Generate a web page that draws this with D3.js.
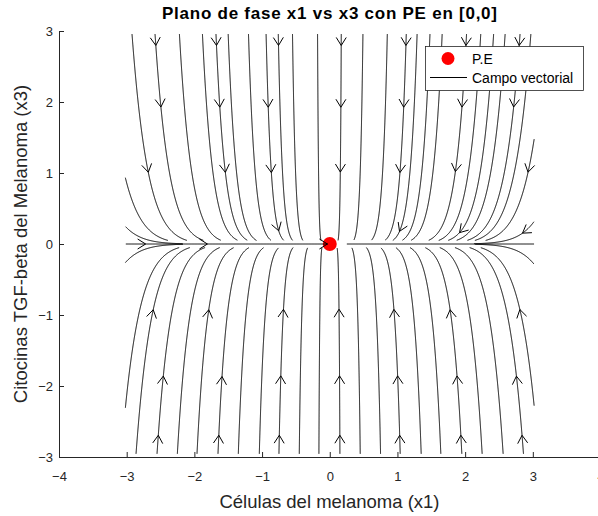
<!DOCTYPE html>
<html>
<head>
<meta charset="utf-8">
<script src="https://cdn.jsdelivr.net/npm/d3@7"></script>
<style>
  body { margin: 0; background: #fff; }
  text { font-family: "Liberation Sans", Arial, Helvetica, sans-serif; }
</style>
</head>
<body>
<div id="chart"></div>
<script>

// equilibrium point (P.E)
var peX = [0];
var peY = [0];

// streamline seeds (data units)
var topSeedY = 2.94;
var topSeedsX = [-2.92, -2.58, -2.22, -1.88, -1.68, -1.50, -1.20, -0.94, -0.76, -0.55, -0.18,
                 0.17, 0.49, 0.85, 1.13, 1.29, 1.48, 1.66, 2.02, 2.23, 2.42, 2.59, 2.81, 2.97];
var bottomSeedY = -2.93;
var bottomSeedsX = [-2.86, -2.55, -2.25, -1.96, -1.65, -1.35, -1.04, -0.75, -0.45, -0.16,
                    0.15, 0.45, 0.75, 1.04, 1.35, 1.64, 1.95, 2.25, 2.56, 2.86];
var sideSeedsX = [-3.0, -3.0, -2.93, -2.93, 3.0, 3.0, 2.91, 2.91];
var sideSeedsY = [0.86, -2.13, 0.17, -0.18, 1.36, -2.1, 0.2, -0.18];
// lines lying on x3 = 0
var axisSeedsX = [-2.8, 2.85];
var axisStopsX = [-0.02, 0.25];

// arrowheads
var arrowX = [-2.58, -1.68, -0.76, 0.17, 1.13, 2.02, 2.80,
              -2.50, -1.63, -0.91, 0.17, 1.09, 1.97, 2.70,
              -2.70, -1.56, -0.86, 0.16, 1.04, 1.90, 2.93,
              -0.76, 1.04, 1.93, 2.84,
              -2.72, -1.81, -0.03,
              -2.65, -1.81, -0.70, 0.13, 0.98, 1.82, 2.84,
              -2.50, -1.72, -0.72, 0.14, 0.99, 1.87, 2.80,
              -2.55, -1.65, -0.75, 0.15, 1.04, 1.96, 2.86];
var arrowY = [2.80, 2.80, 2.80, 2.80, 2.80, 2.80, 2.80,
              1.93, 1.93, 1.93, 1.93, 1.93, 1.93, 1.93,
              1.01, 1.01, 1.01, 1.01, 1.01, 1.01, 1.01,
              0.18, 0.17, 0.15, 0.17,
              0, 0, 0,
              -0.92, -0.92, -0.92, -0.92, -0.92, -0.92, -0.92,
              -1.86, -1.86, -1.86, -1.86, -1.86, -1.86, -1.86,
              -2.69, -2.69, -2.69, -2.69, -2.69, -2.69, -2.69];

var xTicks = [-4, -3, -2, -1, 0, 1, 2, 3, 4];
var yTicks = [-3, -2, -1, 0, 1, 2, 3];

// linearised field around [0,0]: dx1 = -rateX1*x1 , dx3 = -rateX3*x3
var rateX1 = 0.08;
var rateX3 = 1;

var width = 598;
var height = 516;
var axisColor = "#262626";

var svg = d3.select("#chart").append("svg")
  .attr("width", width)
  .attr("height", height);

var x = d3.scaleLinear().domain([-4, 4]).range([59, 600.5]);
var y = d3.scaleLinear().domain([-3, 3]).range([457, 31]);

var kx = x(1) - x(0);
var ky = y(0) - y(1);

function dir(px, py) {
  var X = x.invert(px), Y = y.invert(py);
  var u = -rateX1 * X * kx;
  var v = rateX3 * Y * ky;   // screen y grows downward
  var n = Math.sqrt(u*u + v*v);
  if (n < 1e-9) return null;
  return [u/n, v/n];
}

function inBox(X, Y) {
  return X >= -3.02 && X <= 3.02 && Y >= -2.96 && Y <= 2.96;
}

// integrate one direction of a streamline in pixel space
function trace(x0, y0, sign, stop) {
  var pts = [];
  var p = [x(x0), y(y0)];
  var h = 0.6 * sign;
  for (var i = 0; i < 4000; i++) {
    var d1 = dir(p[0], p[1]);
    if (!d1) break;
    var d2 = dir(p[0] + d1[0]*h/2, p[1] + d1[1]*h/2);
    if (!d2) break;
    var q = [p[0] + d2[0]*h, p[1] + d2[1]*h];
    var X = x.invert(q[0]), Y = y.invert(q[1]);
    if (!inBox(X, Y)) break;
    if (stop && stop(X, Y)) break;
    pts.push(q);
    p = q;
  }
  return pts;
}

function streamline(x0, y0, stop) {
  var back = trace(x0, y0, -1, null).reverse();
  var fwd = trace(x0, y0, 1, stop);
  return back.concat([[x(x0), y(y0)]], fwd);
}

var nearAxis = function(X, Y) { return Math.abs(Y) < 0.05; };

var lines = [];
topSeedsX.forEach(function(s) { lines.push(streamline(s, topSeedY, nearAxis)); });
bottomSeedsX.forEach(function(s) { lines.push(streamline(s, bottomSeedY, nearAxis)); });
sideSeedsX.forEach(function(s, i) {
  var s0 = sideSeedsY[i];
  var stop = Math.abs(s0) < 0.5 ? function(X, Y) { return Math.abs(Y) < 0.004; } : nearAxis;
  lines.push(streamline(s, s0, stop));
});
axisSeedsX.forEach(function(s, i) {
  var xs = axisStopsX[i];
  lines.push(streamline(s, 0, function(X) { return s < 0 ? X > xs : X < xs; }));
});

// equilibrium point under the field
svg.append("g").selectAll("circle")
  .data(peX)
  .enter().append("circle")
    .attr("cx", function(d) { return x(d); })
    .attr("cy", function(d, i) { return y(peY[i]); })
    .attr("r", 7)
    .attr("fill", "#ff0000");

var lineGen = d3.line();

svg.append("g")
  .selectAll("path")
  .data(lines)
  .enter().append("path")
    .attr("d", function(d) { return lineGen(d); })
    .attr("fill", "none")
    .attr("stroke", "#000")
    .attr("stroke-width", 1);

// arrowheads snapped onto the nearest streamline
var arrows = arrowX.map(function(ax, i) {
  var px = x(ax), py = y(arrowY[i]);
  var best = null, bd = 144;
  lines.forEach(function(L) {
    for (var j = 1; j < L.length - 1; j++) {
      var dx = L[j][0] - px, dy = L[j][1] - py;
      var dd = dx*dx + dy*dy;
      if (dd < bd) { bd = dd; best = [L, j]; }
    }
  });
  if (best) {
    var L = best[0], j = best[1];
    var a = L[Math.max(0, j-3)], b = L[Math.min(L.length-1, j+3)];
    var tx = b[0]-a[0], ty = b[1]-a[1], n = Math.sqrt(tx*tx + ty*ty);
    return {p: L[j], t: [tx/n, ty/n]};
  }
  return {p: [px, py], t: dir(px, py) || [1, 0]};
});

var arrowLen = 8, arrowHalf = 5;
svg.append("g")
  .selectAll("path")
  .data(arrows)
  .enter().append("path")
    .attr("d", function(d) {
      var tx = d.t[0], ty = d.t[1];
      var bx = d.p[0] - tx*arrowLen, by = d.p[1] - ty*arrowLen;
      var w1 = [bx - ty*arrowHalf, by + tx*arrowHalf];
      var w2 = [bx + ty*arrowHalf, by - tx*arrowHalf];
      return "M" + w1 + "L" + d.p + "L" + w2;
    })
    .attr("fill", "none")
    .attr("stroke", "#000")
    .attr("stroke-width", 1);

// axes (box off)
var xAxis = svg.append("g")
  .attr("transform", "translate(0," + y(-3) + ")")
  .call(d3.axisBottom(x).tickValues(xTicks).tickFormat(d3.format("d"))
    .tickSize(-5).tickSizeOuter(0).tickPadding(15));
var yAxis = svg.append("g")
  .attr("transform", "translate(" + x(-4) + ",0)")
  .call(d3.axisLeft(y).tickValues(yTicks).tickFormat(d3.format("d"))
    .tickSize(-5).tickSizeOuter(0).tickPadding(6));

[xAxis, yAxis].forEach(function(g) {
  g.select(".domain").attr("stroke", axisColor);
  g.selectAll(".tick line").attr("stroke", axisColor);
  g.selectAll(".tick text")
    .attr("fill", axisColor)
    .style("font-size", "13px")
    .style("font-family", "'Liberation Sans', Arial, sans-serif");
});

svg.append("text")
  .attr("x", 329.5)
  .attr("y", 19)
  .attr("text-anchor", "middle")
  .attr("font-weight", "bold")
  .attr("textLength", 335)
  .attr("lengthAdjust", "spacing")
  .style("font-size", "17px")
  .attr("fill", "#000")
  .text("Plano de fase x1 vs x3 con PE en [0,0]");

svg.append("text")
  .attr("x", 329.5)
  .attr("y", 508)
  .attr("text-anchor", "middle")
  .style("font-size", "18.5px")
  .attr("fill", axisColor)
  .text("Células del melanoma (x1)");

svg.append("text")
  .attr("transform", "translate(27," + y(0) + ") rotate(-90)")
  .attr("text-anchor", "middle")
  .style("font-size", "18.5px")
  .attr("fill", axisColor)
  .text("Citocinas TGF-beta del Melanoma (x3)");

// legend
var legend = svg.append("g").attr("transform", "translate(425,46)");
legend.append("rect")
  .attr("x", 0.5).attr("y", 0.5)
  .attr("width", 158).attr("height", 44)
  .attr("fill", "#fff")
  .attr("stroke", axisColor)
  .attr("stroke-width", 0.8);
legend.append("circle")
  .attr("cx", 23).attr("cy", 12.5).attr("r", 6.5)
  .attr("fill", "#ff0000");
legend.append("text")
  .attr("x", 47).attr("y", 17.5)
  .style("font-size", "14px")
  .attr("fill", "#000")
  .text("P.E");
legend.append("line")
  .attr("x1", 5).attr("x2", 42)
  .attr("y1", 31.5).attr("y2", 31.5)
  .attr("stroke", "#000");
legend.append("text")
  .attr("x", 47).attr("y", 36.5)
  .style("font-size", "14px")
  .attr("fill", "#000")
  .text("Campo vectorial");

</script>
</body>
</html>
